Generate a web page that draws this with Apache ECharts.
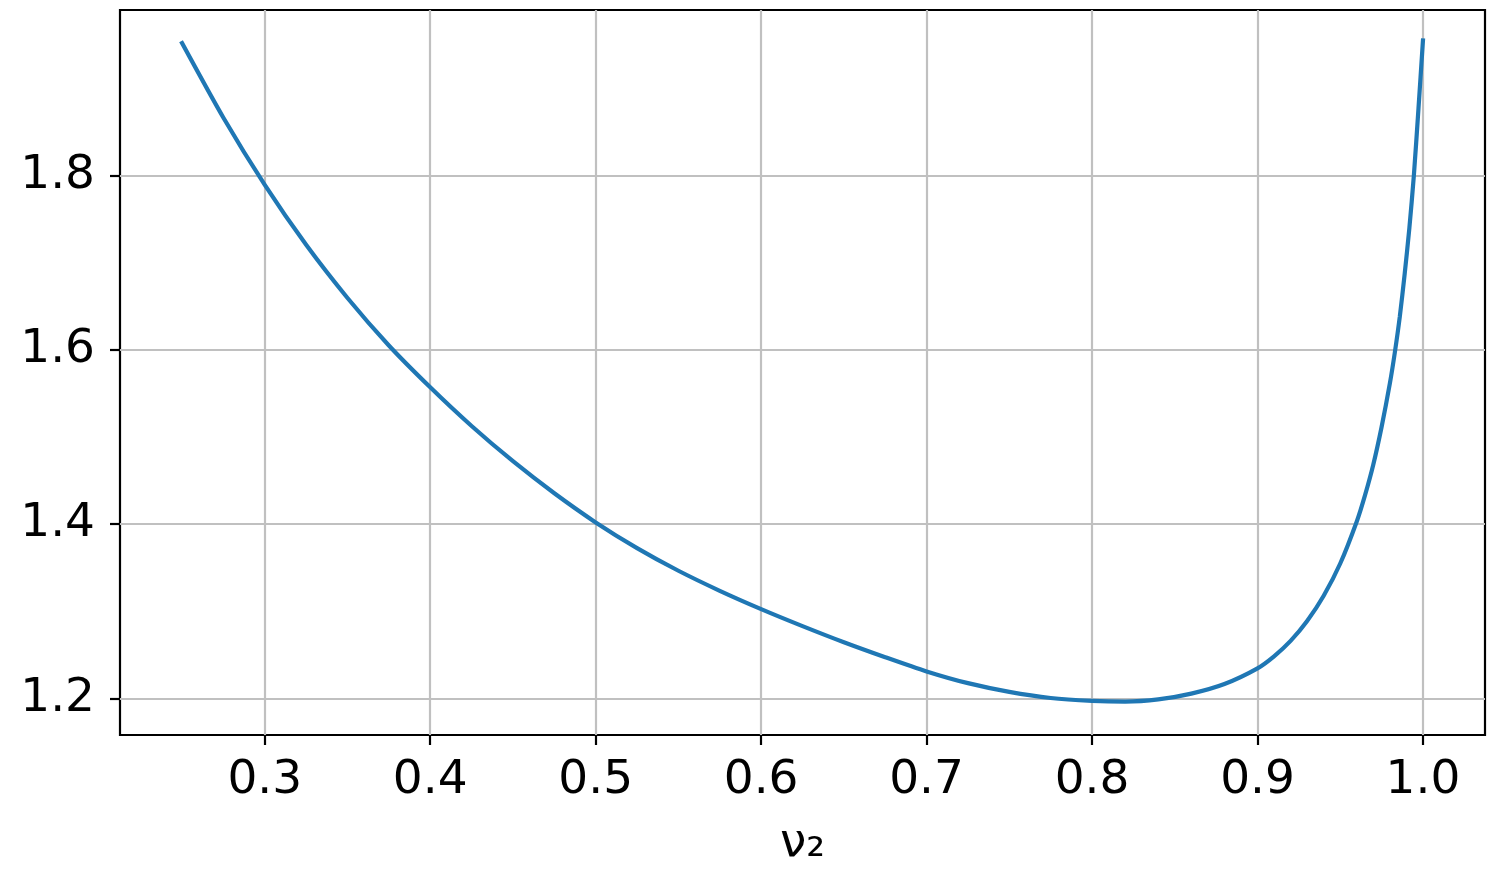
<!DOCTYPE html>
<html>
<head>
<meta charset="utf-8">
<script src="https://cdn.jsdelivr.net/npm/echarts@6/dist/echarts.min.js"></script>
<style>
html,body{margin:0;padding:0;background:#fff;}
#chart{width:1500px;height:875px;}
</style>
</head>
<body>
<div id="chart"></div>
<script>
// x values (nu_2)
const nu2 = [0.25, 0.275, 0.3, 0.325, 0.35, 0.375, 0.4, 0.425, 0.45, 0.475, 0.5, 0.525, 0.55, 0.575, 0.6, 0.625, 0.65, 0.675, 0.7, 0.725, 0.75, 0.775, 0.8, 0.82, 0.84, 0.86, 0.88, 0.9, 0.91, 0.92, 0.93, 0.94, 0.95, 0.96, 0.965, 0.97, 0.975, 0.98, 0.983, 0.986, 0.989, 0.9918, 0.9945, 0.9973, 1.0];
// y values
const curveValues = [1.952, 1.8663, 1.7893, 1.7205, 1.6595, 1.605, 1.557, 1.5126, 1.4722, 1.4354, 1.402, 1.3725, 1.3465, 1.3235, 1.3025, 1.283, 1.2645, 1.2473, 1.231, 1.2175, 1.2075, 1.2005, 1.1972, 1.1963, 1.1988, 1.2055, 1.2165, 1.2345, 1.2483, 1.266, 1.2888, 1.3178, 1.3548, 1.4031, 1.4333, 1.4685, 1.5115, 1.5615, 1.597, 1.638, 1.688, 1.74, 1.8, 1.877, 1.955];
// tick labels
const xTicks = [0.3, 0.4, 0.5, 0.6, 0.7, 0.8, 0.9, 1.0];
const yTicks = [1.2, 1.4, 1.6, 1.8];
const xTitle = 'ν₂';

const seriesData = nu2.map((x, i) => [x, curveValues[i]]);
const FONT = 'DejaVu Sans';

const chart = echarts.init(document.getElementById('chart'), null, {renderer: 'canvas'});
chart.setOption({
  animation: false,
  backgroundColor: '#ffffff',
  grid: {
    left: 120, right: 15, top: 10, bottom: 140,
    show: true, borderColor: '#000000', borderWidth: 2.2, backgroundColor: 'transparent'
  },
  xAxis: {
    type: 'value',
    min: 0.2125, max: 1.0375,
    name: xTitle,
    nameLocation: 'middle',
    nameGap: 85,
    nameTextStyle: {fontFamily: FONT, fontSize: 47, color: '#000'},
    axisLine: {show: false},
    axisTick: {show: true, customValues: xTicks, length: 10, lineStyle: {color: '#000', width: 2.2}},
    axisLabel: {show: true, customValues: xTicks, margin: 22, fontFamily: FONT, fontSize: 47, color: '#000',
      formatter: v => Number(v).toFixed(1)},
    splitLine: {show: true, lineStyle: {color: '#c0c0c0', width: 2.2}}
  },
  yAxis: {
    type: 'value',
    min: 1.158, max: 1.99,
    axisLine: {show: false},
    axisTick: {show: true, customValues: yTicks, length: 10, lineStyle: {color: '#000', width: 2.2}},
    axisLabel: {show: true, customValues: yTicks, margin: 25, fontFamily: FONT, fontSize: 47, color: '#000',
      formatter: v => Number(v).toFixed(1)},
    splitLine: {show: true, lineStyle: {color: '#c0c0c0', width: 2.2}}
  },
  series: [{
    type: 'line',
    data: seriesData,
    showSymbol: false,
    smooth: 0.25,
    lineStyle: {color: '#1f77b4', width: 4.2, cap: 'square'},
    z: 3
  }]
});
</script>
</body>
</html>
